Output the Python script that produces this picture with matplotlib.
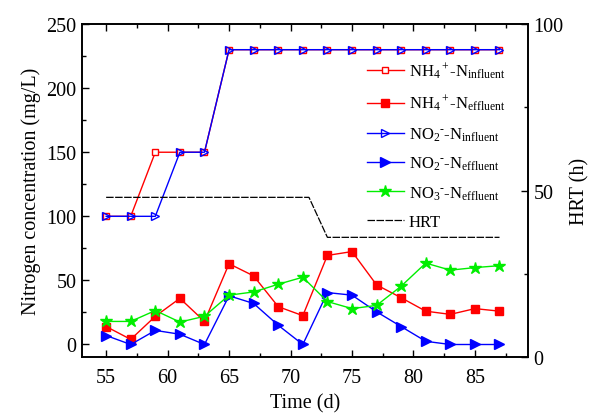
import numpy as np
import matplotlib
matplotlib.use("Agg")
import matplotlib.pyplot as plt
from matplotlib.ticker import MultipleLocator

plt.rcParams['font.family'] = ['Liberation Serif', 'DejaVu Serif']
plt.rcParams['mathtext.fontset'] = 'custom'
plt.rcParams['mathtext.rm'] = 'Liberation Serif'
plt.rcParams['mathtext.it'] = 'Liberation Serif:italic'

# Data
days = [55, 57, 59, 61, 63, 65, 67, 69, 71, 73, 75, 77, 79, 81, 83, 85, 87]
nh4_in = [100, 100, 150, 150, 150, 230, 230, 230, 230, 230, 230, 230, 230, 230, 230, 230, 230]
nh4_eff = [14, 4, 22, 36, 18, 63, 53.5, 29.5, 22.5, 69.5, 72.5, 46.5, 36.5, 26, 23.5, 28, 26]
no2_in = [100, 100, 100, 150, 150, 230, 230, 230, 230, 230, 230, 230, 230, 230, 230, 230, 230]
no2_eff = [7, 0, 11, 8, 0, 38, 32, 15, 0, 40.5, 38.5, 25.5, 14, 2.5, 0, 0, 0]
no3_eff = [18, 18, 26.5, 17.5, 22, 38.5, 41, 47, 52.5, 33.5, 28, 30.5, 45.5, 63.5, 58, 60, 61.5]
hrt_days = [55, 71.5, 73, 87]
hrt = [48, 48, 36, 36]

fig = plt.figure(figsize=(5.91, 4.14), dpi=100)
ax = fig.add_axes([0.138, 0.1345, 0.755, 0.805])
ax2 = ax.twinx()

red = '#ff0000'
blue = '#0000ff'
green = '#00ee00'

l1, = ax.plot(days, nh4_in, color=red, lw=1, marker='s', ms=5, mfc='white', mec=red,
              label=r'NH$_4$$^+$-N$_{\rm influent}$')
l2, = ax.plot(days, nh4_eff, color=red, lw=1, marker='s', ms=5.5, mfc=red, mec=red,
              label=r'NH$_4$$^+$-N$_{\rm effluent}$')
l3, = ax.plot(days, no2_in, color=blue, lw=1, marker='>', ms=6, mfc='none', mec=blue,
              label=r'NO$_2$$^{\text{-}}$-N$_{\rm influent}$')
l4, = ax.plot(days, no2_eff, color=blue, lw=1, marker='>', ms=7.5, mfc=blue, mec=blue,
              label=r'NO$_2$$^{\text{-}}$-N$_{\rm effluent}$')
l5, = ax.plot(days, no3_eff, color=green, lw=1, marker='*', ms=9, mfc=green, mec=green,
              label=r'NO$_3$$^{\text{-}}$-N$_{\rm effluent}$')
l6, = ax2.plot(hrt_days, hrt, color='black', lw=0.9, ls=(0, (6, 1.2)), label='HRT')

ax.set_xlim(53, 89.3)
ax.set_ylim(-10, 250)
ax2.set_ylim(0, 100)

ax.xaxis.set_major_locator(MultipleLocator(5))
ax.xaxis.set_minor_locator(MultipleLocator(2.5))
ax.yaxis.set_major_locator(MultipleLocator(50))
ax.yaxis.set_minor_locator(MultipleLocator(25))
ax2.yaxis.set_major_locator(MultipleLocator(50))
ax2.yaxis.set_minor_locator(MultipleLocator(25))

ax.tick_params(which='both', direction='in', top=True, labelsize=14.5, width=1)
ax.tick_params(which='major', length=5)
ax.tick_params(which='minor', length=3)
ax.tick_params(axis='x', pad=8)
ax2.tick_params(which='both', direction='in', labelsize=14.5, width=1, pad=4)
ax2.tick_params(which='major', length=5)
ax2.tick_params(which='minor', length=3)

for a in (ax, ax2):
    for s in a.spines.values():
        s.set_linewidth(1.2)

ax.set_xlabel('Time (d)', fontsize=14.5, labelpad=4)
ax.set_ylabel('Nitrogen concentration (mg/L)', fontsize=14.5, labelpad=4)
ax2.set_ylabel('HRT (h)', fontsize=14.5, labelpad=5)

leg = ax2.legend(handles=[l1, l2, l3, l4, l5, l6], loc='upper left',
                 bbox_to_anchor=(0.625, 0.91), frameon=False, fontsize=12,
                 handlelength=2.2, handletextpad=0.3, labelspacing=0.72,
                 borderaxespad=0)

fig.savefig('out.png', dpi=100)
